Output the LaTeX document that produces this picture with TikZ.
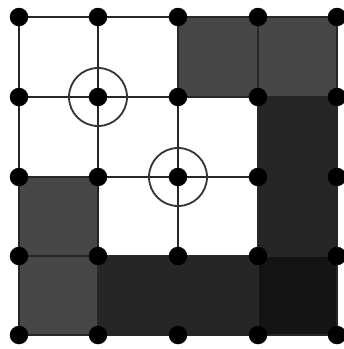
\documentclass[tikz,border=0pt]{standalone}
\begin{document}
\begin{tikzpicture}[x=1pt,y=-1pt,
  dot/.style={circle,fill=black,inner sep=0pt,minimum size=18.5pt},
  gridline/.style={draw=black!85,line width=1.8pt},
  ring/.style={draw=black!80,line width=1.8pt},
  cellA/.style={fill=black!72},
  cellB/.style={fill=black!85},
  cellC/.style={fill=black!92}]
\useasboundingbox (0,0) rectangle (344,349);
\def\xs{{19,98,178,258,337}}
\def\ys{{17,97,177,256,335}}
\foreach \i in {0,...,4}{
  \foreach \j in {0,...,4}{
    \pgfmathsetmacro\xx{\xs[\i]}
    \pgfmathsetmacro\yy{\ys[\j]}
    \coordinate (p\i\j) at (\xx,\yy);
  }
}
% shaded cells (column, row)
\fill[cellA] (p20) rectangle (p31);
\fill[cellA] (p30) rectangle (p41);
\fill[cellB] (p31) rectangle (p42);
\fill[cellB] (p32) rectangle (p43);
\fill[cellA] (p02) rectangle (p13);
\fill[cellA] (p03) rectangle (p14);
\fill[cellB] (p13) rectangle (p24);
\fill[cellB] (p23) rectangle (p34);
\fill[cellC] (p33) rectangle (p44);
% grid
\foreach \i in {0,...,4}{
  \draw[gridline] (p\i0) -- (p\i4);
  \draw[gridline] (p0\i) -- (p4\i);
}
% rings
\draw[ring] (p11) circle (29);
\draw[ring] (p22) circle (29);
% dots
\foreach \i in {0,...,4}{
  \foreach \j in {0,...,4}{
    \node[dot] (d\i\j) at (p\i\j) {};
  }
}
\end{tikzpicture}
\end{document}
